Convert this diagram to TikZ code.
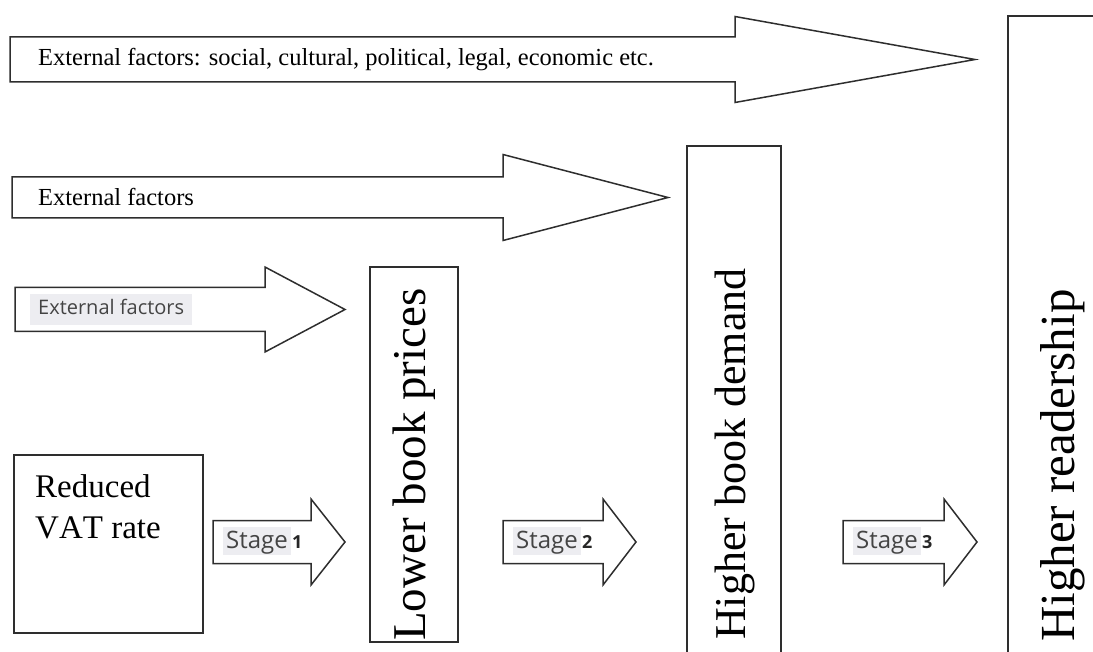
\documentclass[tikz,border=0pt]{standalone}
\usepackage{fontspec}
\setmainfont{Liberation Serif}
\newfontfamily\sansf{Open Sans}
\definecolor{hl}{HTML}{EDEDF1}
\definecolor{ln}{HTML}{2E2E2E}
\definecolor{sanstxt}{HTML}{444444}
\newcommand\barrow[6]{%
  \draw[arrowshape] (#1,{#4-#5}) -- (#2,{#4-#5}) -- (#2,{#4-#6}) -- (#3,#4) -- (#2,{#4+#6}) -- (#2,{#4+#5}) -- (#1,{#4+#5}) -- cycle;}
\tikzset{
  arrowshape/.style={draw=ln, line width=1.5pt, fill=white, line join=miter},
  boxshape/.style={draw=ln, line width=1.5pt, fill=white},
  serifsmall/.style={font=\fontsize{24.5}{28}\selectfont, inner sep=0pt, anchor=west},
  sanslabel/.style={font=\sansf\fontsize{20}{23}\selectfont, text=sanstxt, fill=hl, inner xsep=8pt, inner ysep=1pt, text height=20pt, text depth=9pt, anchor=base west},
  stagelabel/.style={font=\sansf\fontsize{24}{27}\selectfont, text=sanstxt, fill=hl, inner xsep=3pt, inner ysep=1pt, text height=20pt, text depth=6pt, anchor=base west},
  digit/.style={font=\sansf\bfseries\fontsize{18}{20}\selectfont, text=black!85, inner sep=0pt, anchor=base west},
  vattext/.style={font=\fontsize{33}{38}\selectfont, inner sep=0pt, anchor=base west},
  bigtext/.style={rotate=90, anchor=west, inner sep=0pt}
}
\begin{document}
\begin{tikzpicture}[x=1pt,y=-1pt]
\useasboundingbox (0,0) rectangle (1093,652);
\clip (0,0) rectangle (1093,652);
% boxes
\draw[boxshape] (14,455) rectangle (203,633);
\draw[boxshape] (370,267) rectangle (458,642);
\draw[boxshape] (687,146) rectangle (781,662);
\draw[boxshape] (1008,16) rectangle (1105,662);
% arrows
\barrow{10}{735}{975}{59.5}{22.5}{43}
\barrow{12}{503}{668}{197.5}{20.5}{43}
\barrow{15}{265}{345}{309.5}{22}{42.5}
\barrow{213}{311}{345}{542}{21.5}{43}
\barrow{503}{603}{636}{542}{21.5}{43}
\barrow{843}{944}{977}{542}{21.5}{43}
% texts
\node[serifsmall] (t1) at (38,60) {External factors: social, cultural, political, legal, economic etc.};
\node[serifsmall] (t2) at (38,197) {External factors};
\node[sanslabel] (t3) at (30,315) {External factors};
\node[vattext] (red) at (35,497) {Reduced};
\node[vattext] (vat) at (35,538) {V\kern0pt A\kern0pt T\kern0pt\ rate};
\node[stagelabel] (s1) at (223,548) {Stage};
\node[digit, xshift=1pt] (d1) at (s1.base east) {1};
\node[stagelabel] (s2) at (513,548) {Stage};
\node[digit, xshift=1pt] (d2) at (s2.base east) {2};
\node[stagelabel] (s3) at (853,548) {Stage};
\node[digit, xshift=1pt] (d3) at (s3.base east) {3};
\node[bigtext, font=\fontsize{47}{50}\selectfont] (lbp) at (414,641) {Lower book prices};
\node[bigtext, font=\fontsize{44}{48}\selectfont] (hbd) at (735,640) {Higher book demand};
\node[bigtext, font=\fontsize{49}{52}\selectfont] (hr) at (1063,642) {Higher readership};
\end{tikzpicture}
\end{document}
